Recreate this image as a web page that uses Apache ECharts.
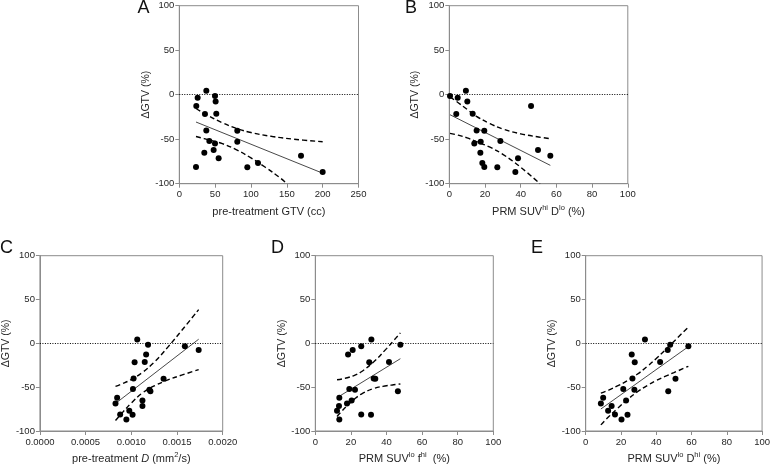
<!DOCTYPE html>
<html><head><meta charset="utf-8">
<script src="https://cdn.jsdelivr.net/npm/echarts@6/dist/echarts.min.js"></script>
<style>html,body{margin:0;padding:0;background:#fff}#c{width:773px;height:468px}</style>
</head><body><div id="c"></div>
<script>
// ---- data ----
const deltaGTV = [4.5, -1.5, -3.4, -7.5, -12.7, -21.7, -21.3, -40.1, -40.4, -52.0, -52.8, -54.7, -62.2, -65.2, -68.5, -71.5, -76.8, -81.3, -81.6, -86.9];

const gtvA  = [37.7, 49.8, 25.6, 50.7, 23.7, 35.8, 51.6, 37.7, 80.9, 41.9, 80.9, 49.8, 47.9, 34.9, 169.8, 54.9, 109.8, 23.3, 94.9, 200];
const prmB  = [9.3, 0.4, 4.7, 10.1, 45.8, 3.9, 13.1, 15.3, 19.6, 28.6, 17.6, 14.0, 49.7, 17.4, 56.6, 38.5, 18.5, 19.6, 26.9, 37.0];
const diffC = [0.001065, 0.001183, 0.001586, 0.001737, 0.001162, 0.001036, 0.001147, 0.001025, 0.001353, 0.001018, 0.001198, 0.001209, 0.000845, 0.001122, 0.000827, 0.001122, 0.000978, 0.000878, 0.001014, 0.000946];
const prmD  = [31.5, 47.8, 25.8, 21.0, 18.4, 30.3, 41.4, 32.8, 33.7, 19.1, 22.3, 46.4, 13.5, 20.4, 17.8, 13.3, 12.2, 25.8, 31.3, 13.5];
const prmE  = [33.6, 47.9, 58.2, 46.5, 26.1, 27.8, 42.2, 26.5, 50.9, 21.3, 27.6, 46.8, 9.9, 22.9, 8.6, 14.7, 12.7, 16.6, 23.7, 20.3];

// regression lines and 95% confidence bands
const fitA   = [[23.3, -30.7], [200, -88.2]];
const upperA = [[23.3, -15.5], [40, -23.5], [60, -31.5], [80, -38], [100, -42.5], [130, -47], [160, -50], [200, -52.8]];
const lowerA = [[23.3, -47], [40, -50.5], [60, -55], [80, -62], [100, -71], [120, -81.5], [140, -93], [150, -100]];

const fitB   = [[0.4, -22.5], [56.6, -79.4]];
const upperB = [[0.4, -2.5], [5, -9], [10, -16.5], [15, -24], [22.8, -32.5], [30, -38.5], [40, -44], [50, -47.5], [56.6, -49.5]];
const lowerB = [[0.4, -43.4], [5, -45.5], [10, -48.5], [15, -52.5], [22.8, -59], [30, -67], [40, -81.5], [50.8, -100]];

const fitC   = [[0.000827, -68.6], [0.001737, 4.7]];
const upperC = [[0.000827, -49], [0.0009, -46.1], [0.001, -41.3], [0.00112, -33.3], [0.00125, -21.6], [0.0014, -4.3], [0.00155, 14.5], [0.001737, 38.5]];
const lowerC = [[0.000827, -88], [0.0009, -79.3], [0.001, -68.1], [0.00112, -56.7], [0.00125, -48.6], [0.0014, -41.7], [0.00155, -36.3], [0.001737, -30]];

const fitD   = [[12.2, -62], [47.8, -17.5]];
const upperD = [[12.2, -41.5], [15, -40.6], [18, -39.2], [22, -36.6], [25.9, -32.4], [33, -20.8], [40, -6], [44, 3.1], [47.8, 12]];
const lowerD = [[12.2, -83.5], [15, -77.2], [18, -71], [22, -63.6], [25.9, -57.8], [33, -51.4], [40, -48.4], [44, -47.3], [47.8, -46.3]];

const fitE   = [[8.6, -74.9], [58.2, -3.8]];
const upperE = [[8.6, -56.8], [13, -53.4], [18, -48.6], [24, -42.2], [29.2, -35.3], [35, -26.2], [40, -17.3], [45, -7.7], [50, 2.2], [58.2, 18.6]];
const lowerE = [[8.6, -93], [13, -83.8], [18, -74.2], [24, -63.6], [29.2, -55.5], [35, -48], [40, -42.5], [45, -37.7], [50, -33.4], [58.2, -26.2]];

// tick labels
const yTicks  = [-100, -50, 0, 50, 100];
const xTicksA = [0, 50, 100, 150, 200, 250];
const xTicksB = [0, 20, 40, 60, 80, 100];
const xTicksC = [0, 0.0005, 0.001, 0.0015, 0.002];
const xTicksD = [0, 20, 40, 60, 80, 100];
const xTicksE = [0, 20, 40, 60, 80, 100];

const panelLetters = ['A', 'B', 'C', 'D', 'E'];
const xNames = [
  'pre-treatment GTV (cc)',
  'PRM SUV{sup|hi} D{sup|lo} (%)',
  'pre-treatment {it|D} (mm{sup|2}/s)',
  'PRM SUV{sup|lo} f{sup|hi}  (%)',
  'PRM SUV{sup|lo} D{sup|hi} (%)'
];
const yName = 'ΔGTV (%)';

// ---- layout / style ----
const FONT = '"Liberation Sans", Arial, Helvetica, sans-serif';
const AX = '#8c8c8c';
const TXT = '#262626';

const panels = [
  { x: gtvA,  fit: fitA, up: upperA, lo: lowerA, ticks: xTicksA, grid: { left: 179.3, top: 5.7, width: 179.2, height: 178 }, yGap: 25, letter: [143.5, 8.5], fmt: v => String(v) },
  { x: prmB,  fit: fitB, up: upperB, lo: lowerB, ticks: xTicksB, grid: { left: 449.3, top: 5.7, width: 178.5, height: 178 }, yGap: 29, letter: [411, 8.5], fmt: v => String(v) },
  { x: diffC, fit: fitC, up: upperC, lo: lowerC, ticks: xTicksC, grid: { left: 36,    top: 255.7, width: 186.7, height: 178.3 }, yGap: 17, letter: [6.5, 248.5], fmt: v => v.toFixed(4) },
  { x: prmD,  fit: fitD, up: upperD, lo: lowerD, ticks: xTicksD, grid: { left: 315.3, top: 255.7, width: 178, height: 178.3 }, yGap: 20, letter: [277.5, 248.5], fmt: v => String(v) },
  { x: prmE,  fit: fitE, up: upperE, lo: lowerE, ticks: xTicksE, grid: { left: 585.7, top: 255.7, width: 178.6, height: 178.3 }, yGap: 26, letter: [537, 248.5], fmt: v => String(v) }
];

const grids = [], xAxes = [], yAxes = [], series = [], graphics = [];
const rich = {
  sup: { fontSize: 7.5, lineHeight: 9, verticalAlign: 'top', fontFamily: FONT, color: TXT },
  it:  { fontSize: 11, fontStyle: 'italic', fontFamily: FONT, color: TXT, lineHeight: 16 }
};

panels.forEach((p, i) => {
  grids.push(Object.assign({ show: true, borderColor: AX, borderWidth: 1, backgroundColor: 'transparent' }, p.grid));
  const t = p.ticks;
  xAxes.push({
    type: 'value', gridIndex: i, min: t[0], max: t[t.length - 1], interval: t[1] - t[0],
    name: xNames[i], nameLocation: 'middle', nameGap: 20,
    nameTextStyle: { fontFamily: FONT, fontSize: 11, color: TXT, lineHeight: 16, rich: rich },
    axisLine: { show: true, onZero: false, lineStyle: { color: AX, width: 1 } },
    axisTick: { show: true, length: 4, lineStyle: { color: AX, width: 1 } },
    axisLabel: { fontFamily: FONT, fontSize: 9.5, color: TXT, margin: 6, formatter: p.fmt, showMinLabel: true, showMaxLabel: true },
    splitLine: { show: false }
  });
  yAxes.push({
    type: 'value', gridIndex: i, min: yTicks[0], max: yTicks[yTicks.length - 1], interval: yTicks[1] - yTicks[0],
    name: yName, nameLocation: 'middle', nameGap: p.yGap, nameRotate: 90,
    nameTextStyle: { fontFamily: FONT, fontSize: 10.5, color: TXT },
    axisLine: { show: true, onZero: false, lineStyle: { color: AX, width: 1 } },
    axisTick: { show: true, length: 4, lineStyle: { color: AX, width: 1 } },
    axisLabel: { fontFamily: FONT, fontSize: 9.5, color: TXT, margin: 5 },
    splitLine: { show: false }
  });
  series.push({
    type: 'scatter', xAxisIndex: i, yAxisIndex: i,
    data: p.x.map((v, j) => [v, deltaGTV[j]]),
    symbolSize: 6, itemStyle: { color: '#000', opacity: 1 }, z: 5,
    markLine: {
      silent: true, symbol: ['none', 'none'], label: { show: false },
      lineStyle: { type: [1, 1.5], color: '#000', width: 1 },
      data: [{ yAxis: 0 }]
    }
  });
  series.push({
    type: 'line', xAxisIndex: i, yAxisIndex: i, data: p.fit, symbol: 'none',
    lineStyle: { color: '#333', width: 0.9 }, z: 3
  });
  [p.up, p.lo].forEach(b => series.push({
    type: 'line', xAxisIndex: i, yAxisIndex: i, data: b, symbol: 'none',
    smooth: 0.4,
    lineStyle: { color: '#000', width: 1.4, type: [5, 3] }, z: 4
  }));
  graphics.push({
    type: 'text', x: p.letter[0], y: p.letter[1],
    style: { text: panelLetters[i], font: '18px ' + FONT, fill: '#111', align: 'center', verticalAlign: 'middle' }
  });
});

const chart = echarts.init(document.getElementById('c'), null, { renderer: 'canvas' });
chart.setOption({
  animation: false,
  backgroundColor: '#fff',
  grid: grids, xAxis: xAxes, yAxis: yAxes, series: series, graphic: graphics
});
</script></body></html>
